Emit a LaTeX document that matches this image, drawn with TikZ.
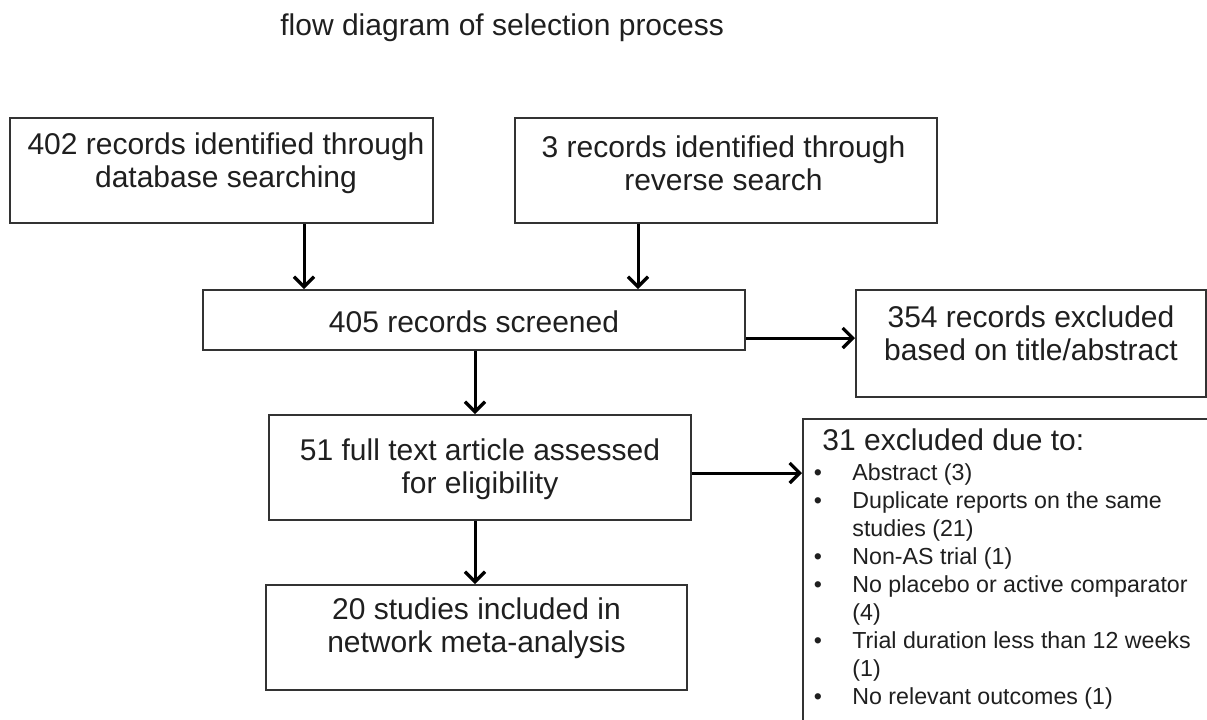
\documentclass[tikz,border=0pt]{standalone}
\usepackage{fontspec}
\setmainfont{Liberation Sans}
\usetikzlibrary{arrows.meta}

\begin{document}
\begin{tikzpicture}[x=0.5pt, y=-0.5pt,
  box/.style={draw=black!80, line width=1pt, inner sep=0pt},
  txt/.style={font=\fontsize{15}{16.5}\selectfont, align=center, text=black!88, inner sep=0pt},
  item/.style={font=\fontsize{11.6}{14}\selectfont, text=black!88, inner sep=0pt, text height=0.72em, text depth=0.22em},
  arr/.style={line width=1.5pt, -{Straight Barb[length=5pt, width=10pt, line width=1.6pt]}}]
  \useasboundingbox (0,0) rectangle (1207,719);
  \clip (0,0) rectangle (1207,719);
  \node[txt, anchor=base west] (title) at (280,35) {flow diagram of selection process};
  % boxes
  \node[box, minimum width=211.5pt, minimum height=52.5pt] (db) at (221.5,170.5) {};
  \node[box, minimum width=211pt, minimum height=52.5pt] (rev) at (726,170.5) {};
  \node[box, minimum width=271pt, minimum height=30pt] (scr) at (474,320) {};
  \node[box, minimum width=175pt, minimum height=53.5pt] (excl) at (1031,343.5) {};
  \node[box, minimum width=211pt, minimum height=52.5pt] (full) at (480,467.5) {};
  \node[box, minimum width=210.5pt, minimum height=52.5pt] (incl) at (476.5,637.5) {};
  \node[box, anchor=north west, minimum width=220pt, minimum height=160pt] (why) at (802,418) {};
  % texts
  \node[txt] (dbt) at (226,163.5) {402 records identified through\\database searching};
  \node[txt] (revt) at (723.5,163.5) {3 records identified through\\reverse search};
  \node[txt] (scrt) at (474,322) {405 records screened};
  \node[txt] (exclt) at (1031,333.5) {354 records excluded\\based on title/abstract};
  \node[txt] (fullt) at (480,469.5) {51 full text article assessed\\for eligibility};
  \node[txt] (inclt) at (476.5,628.5) {20 studies included in\\network meta-analysis};
  \node[txt, anchor=west, text height=0.72em, text depth=0.22em] (whyt) at (822,445) {31 excluded due to:};
  \foreach \t [count=\k from 0] in {{Abstract (3)}, {Duplicate reports on the same}, {studies (21)},
      {Non-AS trial (1)}, {No placebo or active comparator}, {(4)},
      {Trial duration less than 12 weeks}, {(1)}, {No relevant outcomes (1)}}
    \node[item, anchor=west] (ln\k) at (852,{475+28*\k}) {\t};
  \foreach \k in {0,1,3,4,6,8}
    \node[item] (bul\k) at (818,{475+28*\k}) {\textbullet};
  % arrows
  \coordinate (c1) at (304,0);
  \coordinate (c2) at (638,0);
  \coordinate (c3) at (0,338);
  \coordinate (c4) at (475,0);
  \coordinate (c5) at (0,473);
  \draw[arr] (db.south -| c1) -- (scr.north -| c1);
  \draw[arr] (rev.south -| c2) -- (scr.north -| c2);
  \draw[arr] (scr.east |- c3) -- (excl.west |- c3);
  \draw[arr] (scr.south -| c4) -- (full.north -| c4);
  \draw[arr] (full.east |- c5) -- (why.west |- c5);
  \draw[arr] (full.south -| c4) -- (incl.north -| c4);
\end{tikzpicture}
\end{document}
